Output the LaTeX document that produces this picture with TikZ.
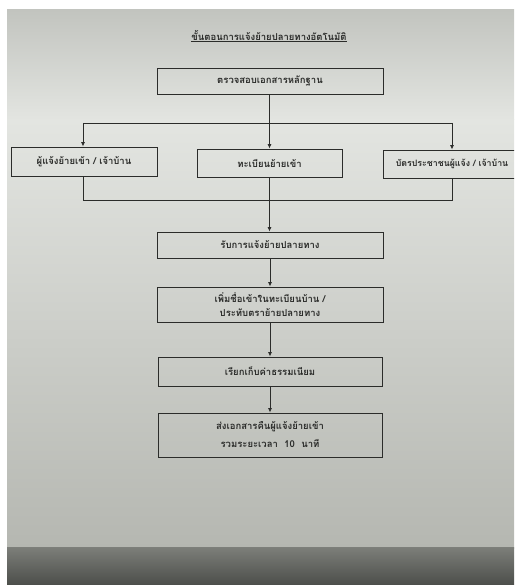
\documentclass[tikz,border=0pt]{standalone}
\usepackage{fontspec}
\newfontfamily\thaifont[Script=Thai]{Loma}
\usetikzlibrary{arrows.meta}
\definecolor{ink}{HTML}{2B2C2A}
\definecolor{paperA}{HTML}{C2C4BF}
\definecolor{paperB}{HTML}{E3E5E1}
\definecolor{paperC}{HTML}{B5B7B1}
\definecolor{darkA}{HTML}{7C7E79}
\definecolor{darkB}{HTML}{4C4E4A}
\tikzset{
  box/.style={draw=ink, line width=0.9pt, inner sep=0pt, align=center,
    font=\thaifont\bfseries\fontsize{9.5}{14}\selectfont, text=ink},
  link/.style={draw=ink, line width=0.8pt},
  arr/.style={link, -{Latex[length=4.5pt,width=4pt]}}
}
\begin{document}
\begin{tikzpicture}[x=1pt,y=-1pt]
\useasboundingbox (0,0) rectangle (514,585);
\clip (0,0) rectangle (514,585);
% paper background
\fill[white] (0,0) rectangle (514,585);
\shade[top color=paperA, bottom color=paperB] (7,10) rectangle (514,120);
\shade[top color=paperB, bottom color=paperC] (7,119.5) rectangle (514,548);
\shade[top color=darkA, bottom color=darkB] (7,547.5) rectangle (514,585);
% title
\node[font=\thaifont\bfseries\fontsize{9.5}{12}\selectfont, text=ink, inner sep=1pt] (title) at (269,36)
  {\underline{ขั้นตอนการแจ้งย้ายปลายทางอัตโนมัติ}};
% boxes
\node[box, minimum width=226pt, minimum height=26pt] (check) at (270,81) {ตรวจสอบเอกสารหลักฐาน};
\node[box, minimum width=146pt, minimum height=29pt] (left) at (84,161.5) {ผู้แจ้งย้ายเข้า / เจ้าบ้าน};
\node[box, minimum width=145pt, minimum height=28pt] (mid) at (269.5,163) {ทะเบียนย้ายเข้า};
\node[box, minimum width=138pt, minimum height=28pt, font=\thaifont\bfseries\fontsize{8.8}{14}\selectfont] (right) at (452,164) {บัตรประชาชนผู้แจ้ง / เจ้าบ้าน};
\node[box, minimum width=226pt, minimum height=26pt] (recv) at (270,245) {รับการแจ้งย้ายปลายทาง};
\node[box, minimum width=226pt, minimum height=35pt] (add) at (270,304.5) {เพิ่มชื่อเข้าในทะเบียนบ้าน /\\ประทับตราย้ายปลายทาง};
\node[box, minimum width=224pt, minimum height=29pt] (fee) at (270,371.5) {เรียกเก็บค่าธรรมเนียม};
\node[box, minimum width=224pt, minimum height=44pt] (ret) at (270,435) {ส่งเอกสารคืนผู้แจ้งย้ายเข้า\\[4pt]รวมระยะเวลา~~10~~นาที};
% junctions
\coordinate (jtop) at (270,123);
\coordinate (jbot) at (270,200);
\coordinate (tl) at (83,123);
\coordinate (tr) at (452,123);
\coordinate (bl) at (83,200);
\coordinate (br) at (452,200);
% connectors
\draw[arr] (check.south -| mid.north) -- (mid.north);
\draw[link] (tl) -- (tr);
\draw[arr] (tl) -- (left.north -| tl);
\draw[arr] (tr) -- (right.north -| tr);
\draw[link] (left.south -| bl) -- (bl) -- (br) -- (right.south -| br);
\draw[arr] (mid.south) -- (recv.north -| mid.south);
\draw[arr] (recv.south) -- (add.north);
\draw[arr] (add.south) -- (fee.north);
\draw[arr] (fee.south) -- (ret.north);
\end{tikzpicture}
\end{document}
